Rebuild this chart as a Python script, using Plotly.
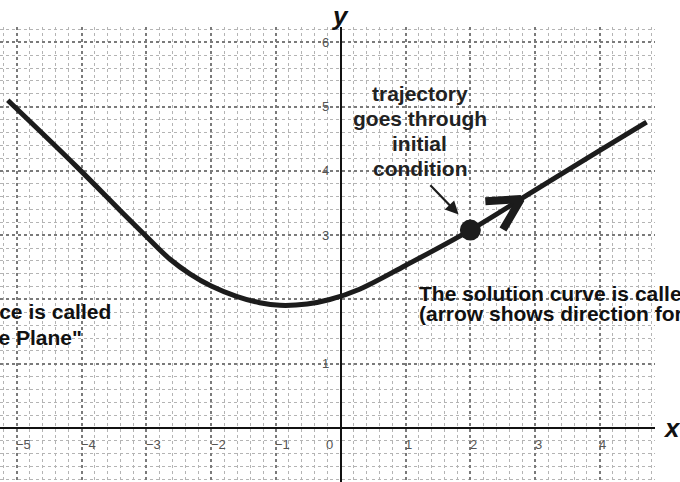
import numpy as np
import plotly.graph_objects as go

# ---- data ----
curve_x = [-5.14, -4.07, -3.41, -3.0, -2.64, -2.33, -2.0, -1.61, -1.25, -0.94, -0.52, -0.17, 0.29, 1.0, 2.0, 3.0, 4.0, 4.72]
curve_y = [5.10, 4.06, 3.39, 2.98, 2.63, 2.40, 2.21, 2.05, 1.95, 1.91, 1.93, 2.00, 2.16, 2.53, 3.08, 3.70, 4.32, 4.76]
initial_x = [2.0]
initial_y = [3.08]
arrow_tip_x = 2.78           # where the direction chevron sits on the curve

x_tick_vals = [-5, -4, -3, -2, -1, 0, 1, 2, 3, 4]
x_tick_text = ["\u22125", "\u22124", "\u22123", "\u22122", "\u22121", "0", "1", "2", "3", "4"]
y_tick_vals = [1, 3, 4, 5, 6]
y_tick_text = ["1", "3", "4", "5", "6"]

note_lines = ["trajectory", "goes through", "initial", "condition"]
right_lines = ["The solution curve is called a trajectory",
               "(arrow shows direction for increasing t)"]
left_lines = ["This space is called", "the \"Phase Plane\""]

INK = "#1c1c1c"
FONT = "Liberation Sans, Arial, sans-serif"
PLOT_W = 655   # plot-area width in px (680 - right margin)
PLOT_H = 455   # plot-area height in px (482 - top margin)
fig = go.Figure()

# solution curve
fig.add_trace(go.Scatter(x=curve_x, y=curve_y, mode="lines",
                         line=dict(color=INK, width=5, shape="spline", smoothing=1.0),
                         hoverinfo="skip", showlegend=False))

# chevron showing direction (derived from curve)
tip_y = float(np.interp(arrow_tip_x, curve_x, curve_y))
slope = (np.interp(arrow_tip_x + 0.05, curve_x, curve_y) - np.interp(arrow_tip_x - 0.05, curve_x, curve_y)) / 0.1
back = np.arctan2(-slope, -1.0)
spread = np.deg2rad(28)
wing = 0.55
wx = [arrow_tip_x + wing * np.cos(back + spread), arrow_tip_x, arrow_tip_x + wing * np.cos(back - spread)]
wy = [tip_y + wing * np.sin(back + spread), tip_y, tip_y + wing * np.sin(back - spread)]
fig.add_trace(go.Scatter(x=wx, y=wy, mode="lines",
                         line=dict(color=INK, width=8), hoverinfo="skip", showlegend=False))

# initial condition point
fig.add_trace(go.Scatter(x=initial_x, y=initial_y, mode="markers",
                         marker=dict(size=21, color=INK), hoverinfo="skip", showlegend=False))

ann = []
# tick labels
for v, t in zip(x_tick_vals, x_tick_text):
    shift = 7 if v < 0 else (-11 if v == 0 else 3)
    ann.append(dict(x=v, y=0, xref="x", yref="y", text=t, showarrow=False,
                    xshift=shift, yshift=-16,
                    font=dict(family=FONT, size=13, color="#555")))
for v, t in zip(y_tick_vals, y_tick_text):
    ann.append(dict(x=0, y=v, xref="x", yref="y", text=t, showarrow=False,
                    xshift=-15, yshift=0,
                    font=dict(family=FONT, size=13, color="#555")))

# note about initial condition
note_y0 = 5.21
for i, t in enumerate(note_lines):
    ann.append(dict(x=1.22, y=note_y0, xref="x", yref="y", text="<b>%s</b>" % t,
                    showarrow=False, yshift=-25 * i,
                    font=dict(family=FONT, size=21, color="#222")))
# pointer arrow
ann.append(dict(x=1.84, y=3.30, ax=1.36, ay=3.80, xref="x", yref="y", axref="x", ayref="y",
                text="", showarrow=True, arrowhead=2, arrowsize=1.2, arrowwidth=2.2,
                arrowcolor=INK, standoff=2))

# right explanation (runs past the page edge, as in the scan)
for i, t in enumerate(right_lines):
    ann.append(dict(x=417 / PLOT_W, y=1 - (293 - 27 + 20 * i) / PLOT_H, xref="paper", yref="paper",
                    xanchor="left", yanchor="middle", text="<b>%s</b>" % t, showarrow=False,
                    font=dict(family=FONT, size=21, color="#111")))
# left explanation (runs past the page edge, as in the scan)
for i, (t, xr) in enumerate(zip(left_lines, [113, 84])):
    ann.append(dict(x=xr / PLOT_W, y=1 - (311 - 27 + 26 * i) / PLOT_H, xref="paper", yref="paper",
                    xanchor="right", yanchor="middle", text="<b>%s</b>" % t, showarrow=False,
                    font=dict(family=FONT, size=21, color="#111")))

# axis names
ann.append(dict(x=0, y=1, xref="x", yref="paper", text="<b><i>y</i></b>", showarrow=False,
                yanchor="bottom", yshift=-6, xshift=-1,
                font=dict(family=FONT, size=26, color="#111")))
ann.append(dict(x=1, y=0, xref="paper", yref="y", text="<b><i>x</i></b>", showarrow=False,
                xanchor="left", xshift=6, yshift=0,
                font=dict(family=FONT, size=26, color="#111")))

grid_major = dict(showgrid=True, gridcolor="#7a7a7a", gridwidth=1.5, griddash="dot")
grid_minor = dict(dtick=0.2, showgrid=True, gridcolor="#b4b4b4", gridwidth=1, griddash="dot")

fig.update_layout(
    width=680, height=482,
    margin=dict(l=0, r=25, t=27, b=0, pad=0),
    paper_bgcolor="white", plot_bgcolor="white",
    showlegend=False,
    annotations=ann,
    xaxis=dict(range=[-5.26, 4.85], dtick=1, tick0=0, showticklabels=False, ticks="",
               zeroline=True, zerolinecolor="#111", zerolinewidth=2.2,
               minor=grid_minor, **grid_major),
    yaxis=dict(range=[-0.84, 6.24], dtick=1, tick0=0, showticklabels=False, ticks="",
               zeroline=True, zerolinecolor="#111", zerolinewidth=2.2,
               minor=grid_minor, **grid_major),
)

fig.write_html("out.html", config={"displayModeBar": False},
               post_script="document.body.style.margin='0px';document.body.style.overflow='hidden';")
